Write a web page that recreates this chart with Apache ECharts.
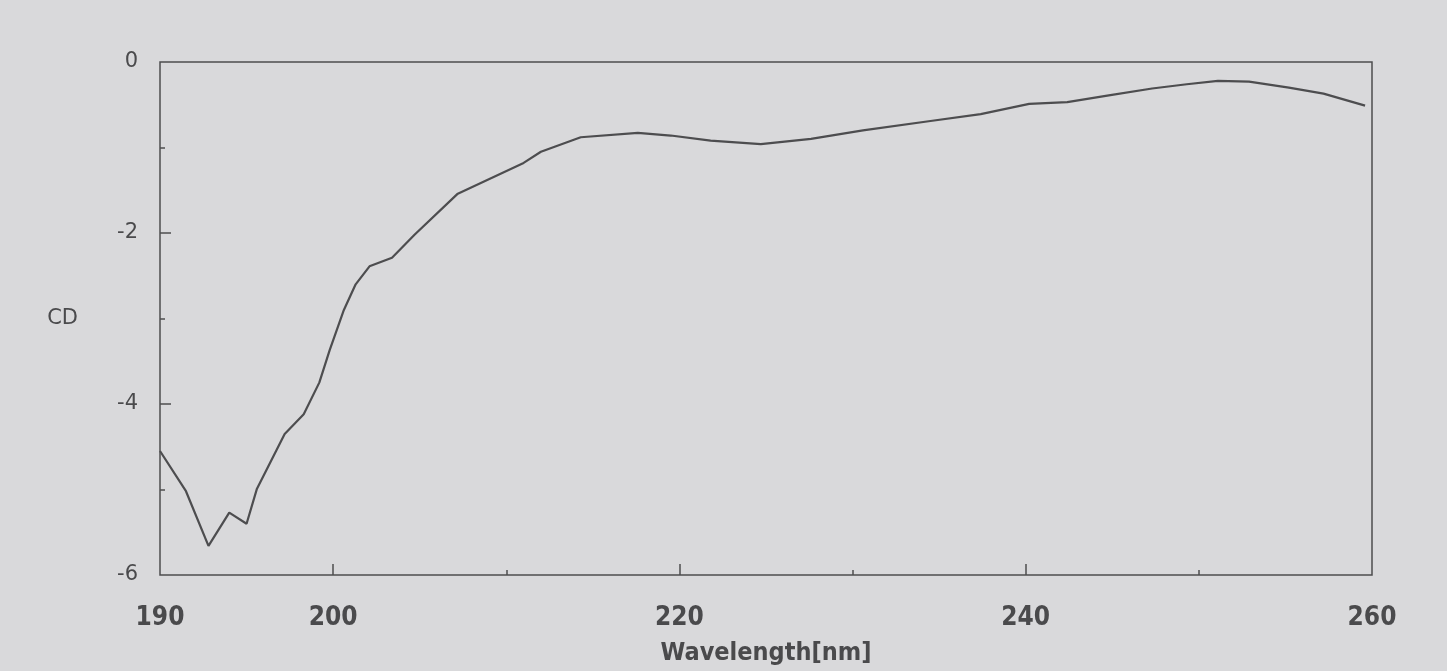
<!DOCTYPE html>
<html>
<head>
<meta charset="utf-8">
<script src="https://cdn.jsdelivr.net/npm/echarts@6/dist/echarts.min.js"></script>
<style>
html,body{margin:0;padding:0;background:#d9d9db;}
#c{width:1447px;height:671px;}
</style>
</head>
<body>
<div id="c"></div>
<script>
const wavelength = [190, 191.5, 192.8, 194.0, 195.0, 195.6, 197.2, 198.3, 199.2, 199.8, 200.6, 201.3, 202.1, 203.4, 204.7, 207.2, 211.0, 212.0, 214.3, 217.6, 219.5, 221.8, 224.7, 227.6, 230.6, 234.5, 237.4, 240.2, 242.4, 244.8, 247.3, 249.3, 251.1, 252.9, 255.2, 257.2, 259.6];
const cdValues = [-4.55, -5.02, -5.66, -5.27, -5.40, -4.99, -4.35, -4.12, -3.75, -3.37, -2.91, -2.60, -2.39, -2.29, -2.02, -1.54, -1.18, -1.05, -0.88, -0.83, -0.86, -0.92, -0.96, -0.90, -0.80, -0.69, -0.61, -0.49, -0.47, -0.39, -0.31, -0.26, -0.22, -0.23, -0.30, -0.37, -0.51];
const xLabelValues = [190, 200, 220, 240, 260];
const xMajorTicks = [200, 220, 240];
const xMinorTicks = [210, 230, 250];
const yLabelValues = [0, -2, -4, -6];
const yMajorTicks = [-2, -4];
const yMinorTicks = [-1, -3, -5];

const lineColor = '#4d4d4f';
const textColor = '#4a4a4c';
const font = '"Liberation Sans Narrow", "DejaVu Sans Condensed", "Liberation Sans", sans-serif';

const chart = echarts.init(document.getElementById('c'));
chart.setOption({
  backgroundColor: '#d9d9db',
  animation: false,
  grid: {left: 160, right: 75, top: 62, bottom: 91, show: true, borderColor: lineColor, borderWidth: 1.5, backgroundColor: 'transparent'},
  xAxis: [{
    type: 'value', min: 190, max: 260, interval: 10, position: 'bottom',
    name: 'Wavelength[nm]', nameLocation: 'middle', nameGap: 66,
    nameTextStyle: {fontFamily: font, fontSize: 25, fontWeight: 'bold', color: textColor},
    axisLine: {show: false, onZero: false},
    axisTick: {show: true, inside: true, length: 11, customValues: xMajorTicks, lineStyle: {color: lineColor, width: 1.5}},
    axisLabel: {customValues: xLabelValues, margin: 30, fontFamily: font, fontSize: 26, fontWeight: 'bold', color: textColor},
    splitLine: {show: false}
  }, {
    type: 'value', min: 190, max: 260, interval: 10, position: 'bottom',
    axisLine: {show: false, onZero: false},
    axisTick: {show: true, inside: true, length: 5, customValues: xMinorTicks, lineStyle: {color: lineColor, width: 1.5}},
    axisLabel: {show: false},
    splitLine: {show: false}
  }],
  yAxis: [{
    type: 'value', min: -6, max: 0, interval: 2, position: 'left',
    name: 'CD', nameLocation: 'middle', nameGap: 82, nameRotate: 0,
    nameTextStyle: {fontFamily: '"DejaVu Sans", sans-serif', fontSize: 21, color: textColor},
    axisLine: {show: false, onZero: false},
    axisTick: {show: true, inside: true, length: 11, customValues: yMajorTicks, lineStyle: {color: lineColor, width: 1.5}},
    axisLabel: {customValues: yLabelValues, margin: 22, fontFamily: '"DejaVu Sans", sans-serif', fontSize: 21, color: textColor},
    splitLine: {show: false}
  }, {
    type: 'value', min: -6, max: 0, interval: 2, position: 'left',
    axisLine: {show: false, onZero: false},
    axisTick: {show: true, inside: true, length: 5, customValues: yMinorTicks, lineStyle: {color: lineColor, width: 1.5}},
    axisLabel: {show: false},
    splitLine: {show: false}
  }],
  series: [{
    type: 'line',
    data: wavelength.map((w, i) => [w, cdValues[i]]),
    showSymbol: false,
    smooth: false,
    lineStyle: {color: lineColor, width: 2.2},
    xAxisIndex: 0, yAxisIndex: 0
  }]
});
</script>
</body>
</html>
